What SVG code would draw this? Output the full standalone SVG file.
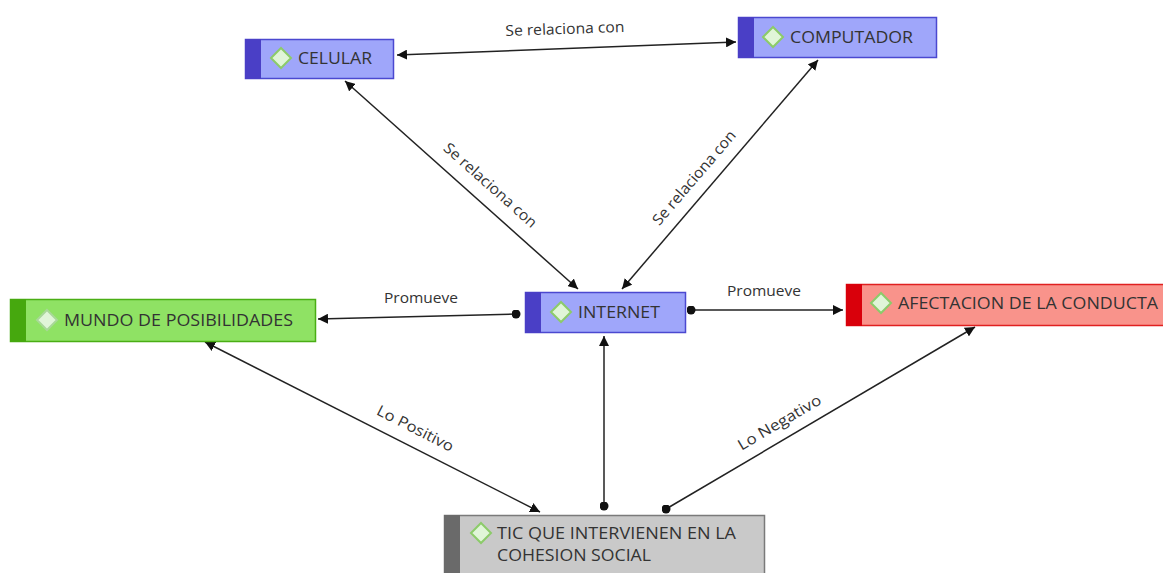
<svg xmlns="http://www.w3.org/2000/svg" width="1163" height="573" viewBox="0 0 1163 573">
<style>
.n{font-family:"Open Sans","Noto Sans","Liberation Sans",sans-serif;font-size:16px;fill:#333333}
.l{font-family:"Open Sans","Noto Sans","Liberation Sans",sans-serif;font-size:15px;fill:#333333;text-anchor:middle}
.c{stroke:#222222;stroke-width:1.5;fill:none}
.dia{fill:#E0F5D8;stroke:#8CCB6A;stroke-width:2}
.blue{fill:#9FA6FA;stroke:#4B48D0;stroke-width:1.5}
.blueS{fill:#4A3FC6}
</style>
<defs>
<marker id="ah" viewBox="0 0 10 10" refX="10" refY="5" markerWidth="10" markerHeight="10" markerUnits="userSpaceOnUse" orient="auto-start-reverse">
<path d="M0,0 L10,5 L0,10 z" fill="#111"/>
</marker>
<marker id="dot" viewBox="0 0 10 10" refX="5" refY="5" markerWidth="9" markerHeight="9" markerUnits="userSpaceOnUse">
<circle cx="5" cy="5" r="5" fill="#111"/>
</marker>
</defs>
<g id="connectors">
<line class="c" x1="397" y1="55" x2="736" y2="42" marker-start="url(#ah)" marker-end="url(#ah)"/>
<text class="l" transform="translate(565,34) rotate(-2)" textLength="119" lengthAdjust="spacingAndGlyphs">Se relaciona con</text>
<line class="c" x1="345" y1="81" x2="578" y2="289" marker-start="url(#ah)" marker-end="url(#ah)"/>
<text class="l" transform="translate(487,189) rotate(41.6)" textLength="119" lengthAdjust="spacingAndGlyphs">Se relaciona con</text>
<line class="c" x1="818" y1="60" x2="622" y2="289" marker-start="url(#ah)" marker-end="url(#ah)"/>
<text class="l" transform="translate(698,181) rotate(-49.4)" textLength="119" lengthAdjust="spacingAndGlyphs">Se relaciona con</text>
<line class="c" x1="516" y1="314" x2="318" y2="319" marker-start="url(#dot)" marker-end="url(#ah)"/>
<text class="l" x="421" y="303" textLength="74" lengthAdjust="spacingAndGlyphs">Promueve</text>
<line class="c" x1="691" y1="310" x2="843" y2="310" marker-start="url(#dot)" marker-end="url(#ah)"/>
<text class="l" x="764" y="296" textLength="74" lengthAdjust="spacingAndGlyphs">Promueve</text>
<line class="c" x1="540" y1="512" x2="205" y2="342" marker-start="url(#ah)" marker-end="url(#ah)"/>
<text class="l" transform="translate(413,433) rotate(26.9)" textLength="84" lengthAdjust="spacingAndGlyphs">Lo Positivo</text>
<line class="c" x1="604" y1="506" x2="604" y2="336" marker-start="url(#dot)" marker-end="url(#ah)"/>
<line class="c" x1="666" y1="509" x2="975" y2="327" marker-start="url(#dot)" marker-end="url(#ah)"/>
<text class="l" transform="translate(782,427) rotate(-30.5)" textLength="94" lengthAdjust="spacingAndGlyphs">Lo Negativo</text>
</g>
<g id="celular">
<rect class="blue" x="245.5" y="39.5" width="148" height="39"/>
<rect class="blueS" x="245" y="39" width="16" height="40"/>
<path class="dia" d="M281,48 L291,58 L281,68 L271,58 z"/>
<text class="n" x="298" y="64" textLength="74" lengthAdjust="spacingAndGlyphs">CELULAR</text>
</g>
<g id="computador">
<rect class="blue" x="738.5" y="17.5" width="198" height="40"/>
<rect class="blueS" x="738" y="17" width="16" height="41"/>
<path class="dia" d="M773,27 L783,37 L773,47 L763,37 z"/>
<text class="n" x="790" y="43" textLength="123" lengthAdjust="spacingAndGlyphs">COMPUTADOR</text>
</g>
<g id="internet">
<rect class="blue" x="525.5" y="292.5" width="160" height="40"/>
<rect class="blueS" x="525" y="292" width="16" height="41"/>
<path class="dia" d="M561,302 L571,312 L561,322 L551,312 z"/>
<text class="n" x="578" y="318" textLength="82" lengthAdjust="spacingAndGlyphs">INTERNET</text>
</g>
<g id="mundo">
<rect x="10.5" y="299.5" width="305" height="42" fill="#8FE264" stroke="#4AAE14" stroke-width="1.5"/>
<rect x="10" y="299" width="16" height="43" fill="#46A80E"/>
<path class="dia" d="M47,310 L57,320 L47,330 L37,320 z" style="stroke:#A8D898"/>
<text class="n" x="64" y="326" textLength="229" lengthAdjust="spacingAndGlyphs">MUNDO DE POSIBILIDADES</text>
</g>
<g id="afectacion">
<rect x="846.5" y="284.5" width="320" height="41" fill="#F9938B" stroke="#E02020" stroke-width="1.5"/>
<rect x="846" y="284" width="16" height="42" fill="#D9000B"/>
<path class="dia" d="M881,293 L891,303 L881,313 L871,303 z"/>
<text class="n" x="898" y="309" textLength="260" lengthAdjust="spacingAndGlyphs">AFECTACION DE LA CONDUCTA</text>
</g>
<g id="tic">
<rect x="444.5" y="515.5" width="320" height="62" fill="#C9C9C9" stroke="#7A7A7A" stroke-width="1.5"/>
<rect x="444" y="515" width="16" height="60" fill="#6A6A6A"/>
<path class="dia" d="M481,523 L491,533 L481,543 L471,533 z"/>
<text class="n" x="497" y="539" textLength="239" lengthAdjust="spacingAndGlyphs">TIC QUE INTERVIENEN EN LA</text>
<text class="n" x="497" y="561" textLength="154" lengthAdjust="spacingAndGlyphs">COHESION SOCIAL</text>
</g>
</svg>
